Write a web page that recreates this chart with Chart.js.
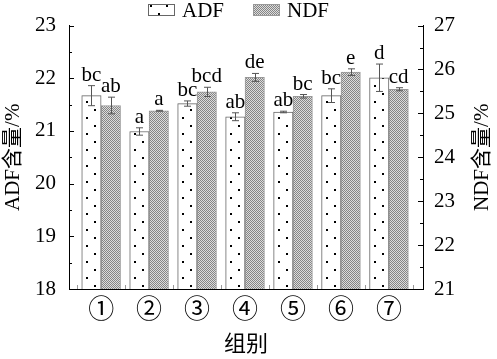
<!DOCTYPE html>
<html>
<head>
<meta charset="utf-8">
<script src="https://cdn.jsdelivr.net/npm/chart.js@4/dist/chart.umd.min.js"></script>
<style>
  html, body { margin: 0; padding: 0; background: #fff; }
</style>
</head>
<body>
<canvas id="chart" width="497" height="359"></canvas>
<script>
// data
const groups = ['①', '②', '③', '④', '⑤', '⑥', '⑦'];
const adfValues = [21.67, 20.99, 21.52, 21.27, 21.36, 21.67, 22.01];
const adfErr = [0.19, 0.07, 0.05, 0.075, 0.015, 0.13, 0.26];
const adfLetters = ['bc', 'a', 'bc', 'ab', 'ab', 'bc', 'd'];
const ndfValues = [25.18, 25.06, 25.49, 25.82, 25.39, 25.94, 25.55];
const ndfErr = [0.19, 0.01, 0.105, 0.09, 0.04, 0.075, 0.035];
const ndfLetters = ['ab', 'a', 'bcd', 'de', 'bc', 'e', 'cd'];
const adfRange = [18, 23];
const ndfRange = [21, 27];

const fontFamily = '"Liberation Serif", "Noto Sans CJK SC", serif';

function dotPattern() {
    const c = document.createElement('canvas');
    c.width = 16; c.height = 16;
    const g = c.getContext('2d');
    g.fillStyle = '#fff';
    g.fillRect(0, 0, 16, 16);
    g.fillStyle = '#000';
    g.fillRect(6, 5, 2, 2);
    g.fillRect(14, 13, 2, 2);
    return g.createPattern(c, 'repeat');
}

function gridPattern() {
    const c = document.createElement('canvas');
    c.width = 2; c.height = 2;
    const g = c.getContext('2d');
    g.fillStyle = '#dcdcdc';
    g.fillRect(0, 0, 2, 2);
    g.fillStyle = '#858585';
    g.fillRect(0, 0, 1, 1);
    g.fillRect(1, 1, 1, 1);
    return g.createPattern(c, 'repeat');
}

// error bars, letters, inward ticks, legend and right title
const extras = {
    id: 'extras',
    afterDatasetsDraw(chart) {
        const ctx = chart.ctx;
        const area = chart.chartArea;
        const series = [
            { vals: adfValues, err: adfErr, letters: adfLetters, axis: 'y' },
            { vals: ndfValues, err: ndfErr, letters: ndfLetters, axis: 'y1' }
        ];
        ctx.save();
        series.forEach((s, d) => {
            const scale = chart.scales[s.axis];
            chart.getDatasetMeta(d).data.forEach((bar, i) => {
                const x = Math.round(bar.x) + 0.5;
                const top = scale.getPixelForValue(s.vals[i] + s.err[i]);
                const bot = scale.getPixelForValue(s.vals[i] - s.err[i]);
                ctx.strokeStyle = '#555';
                ctx.lineWidth = 1;
                ctx.beginPath();
                ctx.moveTo(x, top); ctx.lineTo(x, bot);
                ctx.moveTo(x - 3.5, top); ctx.lineTo(x + 3.5, top);
                ctx.moveTo(x - 3.5, bot); ctx.lineTo(x + 3.5, bot);
                ctx.stroke();
                ctx.fillStyle = '#000';
                ctx.font = '21px ' + fontFamily;
                ctx.textAlign = 'center';
                ctx.textBaseline = 'alphabetic';
                ctx.fillText(s.letters[i], bar.x, top - 5);
            });
        });

        // inward ticks on both y axes
        ctx.strokeStyle = '#000';
        ctx.beginPath();
        const yl = chart.scales.y, yr = chart.scales.y1;
        for (let v = adfRange[0]; v <= adfRange[1]; v += 0.5) {
            const y = Math.round(yl.getPixelForValue(v)) + 0.5;
            const len = Number.isInteger(v) ? 5 : 3;
            ctx.moveTo(area.left, y); ctx.lineTo(area.left + len, y);
        }
        for (let v = ndfRange[0]; v <= ndfRange[1]; v += 0.5) {
            const y = Math.round(yr.getPixelForValue(v)) + 0.5;
            const len = Number.isInteger(v) ? 5 : 3;
            ctx.moveTo(area.right, y); ctx.lineTo(area.right - len, y);
        }
        ctx.stroke();

        // small ticks between groups on the bottom axis
        ctx.strokeStyle = '#999';
        ctx.beginPath();
        const xs = chart.scales.x;
        for (let k = 0; k <= groups.length; k++) {
            const x = Math.round(xs.getPixelForValue(k + 0.5)) + 0.5;
            ctx.moveTo(x, area.bottom); ctx.lineTo(x, area.bottom - 4);
        }
        ctx.stroke();
        ctx.restore();
    },
    afterDraw(chart) {
        const ctx = chart.ctx;
        ctx.save();
        // legend
        const spots = [148, 253];
        ctx.font = '21px ' + fontFamily;
        ctx.textAlign = 'left';
        ctx.textBaseline = 'middle';
        chart.data.datasets.forEach((ds, d) => {
            const bx = spots[d];
            ctx.fillStyle = ds.backgroundColor;
            ctx.fillRect(bx, 4, 27, 12);
            ctx.strokeStyle = ds.borderColor;
            ctx.lineWidth = 1;
            ctx.strokeRect(bx + 0.5, 4.5, 26, 11);
            ctx.fillStyle = '#000';
            ctx.fillText(ds.label, bx + 34, 11);
        });
        // right title reads bottom to top like the left one
        const area = chart.chartArea;
        ctx.translate(482, (area.top + area.bottom) / 2);
        ctx.rotate(-Math.PI / 2);
        ctx.textAlign = 'center';
        ctx.textBaseline = 'middle';
        ctx.fillText('NDF含量/%', 0, 0);
        ctx.restore();
    }
};

const tickFont = { family: fontFamily, size: 21 };

new Chart(document.getElementById('chart'), {
    type: 'bar',
    data: {
        datasets: [{
            label: 'ADF',
            data: adfValues.map((v, i) => ({ x: i + 1, y: v })),
            yAxisID: 'y',
            backgroundColor: dotPattern(),
            borderColor: '#666',
            borderWidth: 1
        }, {
            label: 'NDF',
            data: ndfValues.map((v, i) => ({ x: i + 1, y: v })),
            yAxisID: 'y1',
            backgroundColor: gridPattern(),
            borderColor: '#999',
            borderWidth: 1
        }]
    },
    options: {
        responsive: false,
        animation: false,
        layout: { padding: { top: 2.4 } },
        barThickness: 19.4,
        plugins: {
            legend: { display: false },
            tooltip: { enabled: false }
        },
        scales: {
            x: {
                type: 'linear',
                min: 0.33,
                max: 7.71,
                offset: false,
                bounds: 'data',
                afterBuildTicks: s => { s.ticks = groups.map((g, i) => ({ value: i + 1 })); },
                afterFit: s => { s.height = 70; },
                ticks: {
                    callback: v => groups[v - 1],
                    font: { family: fontFamily, size: 26 },
                    color: '#000',
                    padding: 7,
                    maxRotation: 0,
                    autoSkip: false
                },
                grid: { display: false, drawTicks: false, offset: false },
                border: { color: '#000' },
                title: {
                    display: true,
                    text: '组别',
                    font: { family: fontFamily, size: 22 },
                    color: '#000',
                    padding: { top: 0, bottom: 1 }
                }
            },
            y: {
                position: 'left',
                min: adfRange[0],
                max: adfRange[1],
                afterFit: s => { s.width = 69; },
                ticks: { stepSize: 1, font: tickFont, color: '#000', padding: 13 },
                grid: { display: false, drawTicks: false },
                border: { color: '#000' },
                title: {
                    display: true,
                    text: 'ADF含量/%',
                    font: tickFont,
                    color: '#000',
                    padding: { top: 1, bottom: 0 }
                }
            },
            y1: {
                position: 'right',
                min: ndfRange[0],
                max: ndfRange[1],
                afterFit: s => { s.width = 74; },
                ticks: { stepSize: 1, font: tickFont, color: '#000', padding: 11 },
                grid: { display: false, drawTicks: false },
                border: { color: '#000' }
            }
        }
    },
    plugins: [extras]
});
</script>
</body>
</html>
